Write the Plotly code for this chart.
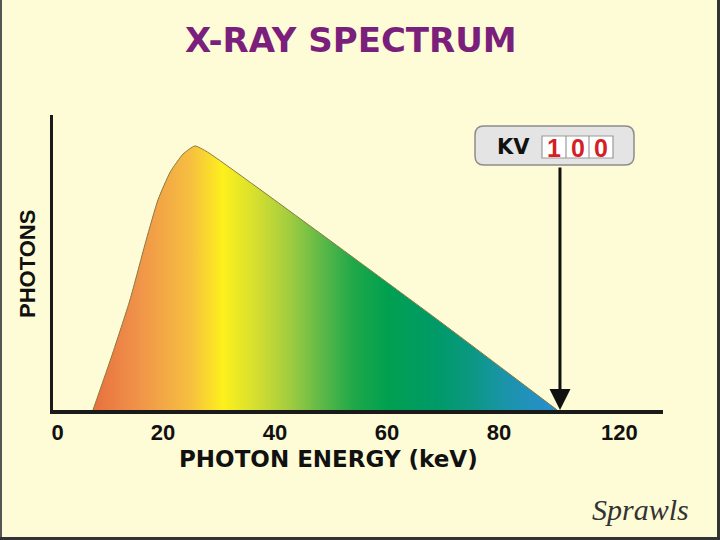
import plotly.graph_objects as go

# ---- data ----
energy_kev = [7.5, 10.9, 14.1, 17.0, 19.1, 21.3, 23.6, 25.7, 27.9, 48.0, 68.9, 90.4]
photons = [0.0, 18.6, 37.3, 57.6, 71.2, 80.7, 86.8, 89.5, 87.5, 60.0, 30.8, 0.0]
tick_vals = [1.2, 20, 40, 60, 80, 101.5]
tick_text = ["0", "20", "40", "60", "80", "120"]
kv_label = "KV"
kv_digits = ["1", "0", "0"]
kv_marker_kev = 90.9

# gradient along energy axis (position 0..1 across the spectrum, colour)
grad_pos = [0.0, 0.10, 0.21, 0.28, 0.353, 0.425, 0.496, 0.56, 0.633, 0.74, 0.812, 0.883, 1.0]
grad_col = ["#e8703f", "#f0944a", "#f6bf40", "#fdf01c", "#d4de30", "#a0cc40", "#5ab848",
            "#20a848", "#00a050", "#009a68", "#0a9880", "#1a94a8", "#2a8ed0"]

BG = "#fefcd6"
L, R, T, B = 53, 663, 115, 410


def px(x):
    return (x - L) / (R - L)


def py(y):
    return (B - y) / (B - T)


def rounded_path(x0, y0, x1, y1, r):
    rx = r / (R - L)
    ry = r / (B - T)
    a, b, c, d = px(x0), px(x1), py(y0), py(y1)  # c top (higher), d bottom
    return (f"M {a+rx},{c} L {b-rx},{c} Q {b},{c} {b},{c-ry} L {b},{d+ry} "
            f"Q {b},{d} {b-rx},{d} L {a+rx},{d} Q {a},{d} {a},{d+ry} "
            f"L {a},{c-ry} Q {a},{c} {a+rx},{c} Z")


fig = go.Figure()
fig.add_trace(go.Scatter(
    x=energy_kev, y=photons, mode="lines",
    line=dict(color="#8a7a40", width=1, shape="spline", smoothing=0.5),
    fill="tozeroy",
    fillgradient=dict(type="horizontal",
                      colorscale=[[p, c] for p, c in zip(grad_pos, grad_col)],
                      start=energy_kev[0], stop=energy_kev[-1]),
    hoverinfo="skip", showlegend=False,
))

shapes = [
    dict(type="path", xref="paper", yref="paper", path=rounded_path(475, 126, 634, 165, 9),
         fillcolor="#e4e4e4", line=dict(color="#8c8c8c", width=1.5), layer="above"),
    dict(type="rect", xref="paper", yref="paper", x0=px(542), x1=px(613), y0=py(158), y1=py(136),
         fillcolor="white", line=dict(color="#9a9a9a", width=1.2), layer="above"),
    dict(type="line", xref="paper", yref="paper", x0=px(566), x1=px(566), y0=py(158), y1=py(136),
         line=dict(color="#9a9a9a", width=1.2), layer="above"),
    dict(type="line", xref="paper", yref="paper", x0=px(589), x1=px(589), y0=py(158), y1=py(136),
         line=dict(color="#9a9a9a", width=1.2), layer="above"),
    # picture frame
    dict(type="line", xref="paper", yref="paper", x0=px(1), x1=px(1), y0=py(0), y1=py(540),
         line=dict(color="#555555", width=2)),
    dict(type="line", xref="paper", yref="paper", x0=px(718.5), x1=px(718.5), y0=py(0), y1=py(540),
         line=dict(color="#333333", width=3)),
    dict(type="line", xref="paper", yref="paper", x0=px(0), x1=px(720), y0=py(538.5), y1=py(538.5),
         line=dict(color="#333333", width=3)),
]

annotations = [
    dict(text="X-RAY SPECTRUM", xref="paper", yref="paper", x=px(351), y=py(40),
         showarrow=False, xanchor="center", yanchor="middle",
         font=dict(family="DejaVu Sans", size=34, color="#7b1f7c", weight="bold")),
    dict(text="PHOTON ENERGY (keV)", xref="paper", yref="paper", x=px(328), y=py(459),
         showarrow=False, xanchor="center", yanchor="middle", borderpad=0,
         font=dict(family="DejaVu Sans", size=23, color="#111111", weight="bold")),
    dict(text="PHOTONS", xref="paper", yref="paper", x=px(27), y=py(264), textangle=-90,
         showarrow=False, xanchor="center", yanchor="middle",
         font=dict(family="Liberation Sans", size=22, color="#111111", weight="bold")),
    dict(text=kv_label, xref="paper", yref="paper", x=px(513), y=py(147),
         showarrow=False, xanchor="center", yanchor="middle",
         font=dict(family="DejaVu Sans", size=21, color="#111111", weight="bold")),
    dict(text="Sprawls", xref="paper", yref="paper", x=px(640), y=py(509),
         showarrow=False, xanchor="center", yanchor="middle",
         font=dict(family="Liberation Serif", size=30, color="#333333", style="italic")),
    # arrow from the KV box down to the axis
    dict(x=kv_marker_kev, y=0, ax=kv_marker_kev, ay=(B - 166) / (B - T) * 100,
         xref="x", yref="y", axref="x", ayref="y", text="", showarrow=True,
         arrowhead=2, arrowsize=1.4, arrowwidth=3, arrowcolor="#111111", standoff=0),
]
for i, dg in enumerate(kv_digits):
    cx = [554, 577.5, 601][i]
    annotations.append(dict(text=dg, xref="paper", yref="paper", x=px(cx), y=py(147.5),
                            showarrow=False, xanchor="center", yanchor="middle",
                            font=dict(family="Liberation Sans", size=25, color="#d41f26", weight="bold")))

fig.update_layout(
    width=720, height=540,
    margin=dict(l=L, r=720 - R, t=T, b=540 - B),
    paper_bgcolor=BG, plot_bgcolor=BG,
    shapes=shapes, annotations=annotations,
    xaxis=dict(range=[0.36, 109.3], showgrid=False, zeroline=False, showline=True,
               linecolor="#1a1a1a", linewidth=4, tickvals=tick_vals, ticktext=tick_text,
               ticks="", tickfont=dict(family="Liberation Sans", size=22, color="#111111", weight="bold"),
               fixedrange=True),
    yaxis=dict(range=[0, 100], showgrid=False, zeroline=False, showline=True,
               linecolor="#1a1a1a", linewidth=3, showticklabels=False, ticks="", fixedrange=True),
)

fig.write_html("out.html", config={"displayModeBar": False},
               post_script="document.body.style.margin='0';document.body.style.background='" + BG + "';")
